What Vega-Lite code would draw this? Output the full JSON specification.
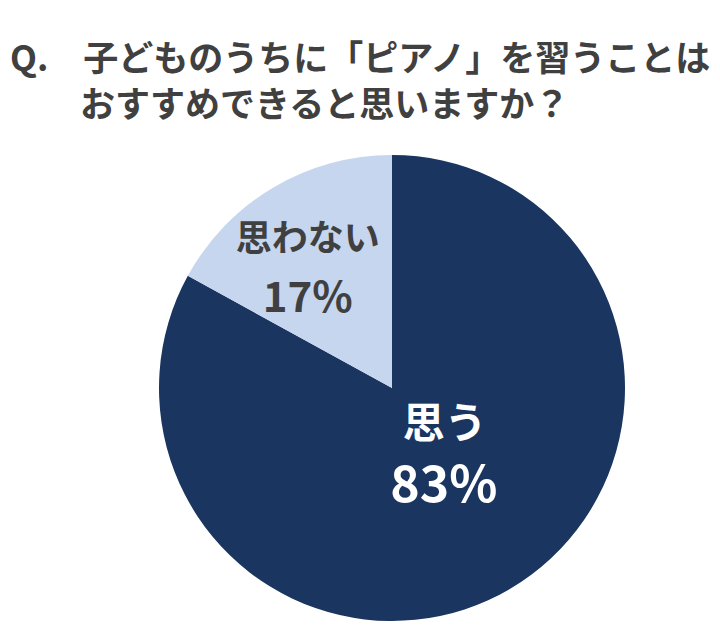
{
  "$schema": "https://vega.github.io/schema/vega-lite/v6.json",
  "width": 656,
  "height": 508,
  "autosize": "none",
  "padding": {"left": 64, "right": 0, "top": 134, "bottom": 0},
  "background": "white",
  "title": {
    "text": ["Q.\u3000子どものうちに「ピアノ」を習うことは", "\u200B\u3000\u3000おすすめできると思いますか？"],
    "anchor": "start",
    "frame": "bounds",
    "dx": -54,
    "offset": 10,
    "font": "Noto Sans CJK JP",
    "fontSize": 35,
    "fontWeight": "bold",
    "color": "#404040",
    "lineHeight": 46
  },
  "data": {
    "values": [
      {"answer": "思う", "pct": 83, "label": "83%", "rank": 1},
      {"answer": "思わない", "pct": 17, "label": "17%", "rank": 2}
    ]
  },
  "encoding": {
    "theta": {"field": "pct", "type": "quantitative", "stack": true},
    "order": {"field": "rank", "type": "quantitative"}
  },
  "layer": [
    {
      "mark": {"type": "arc", "outerRadius": 233},
      "encoding": {
        "color": {
          "field": "answer",
          "type": "nominal",
          "scale": {"domain": ["思う", "思わない"], "range": ["#1a3560", "#c6d6ee"]},
          "legend": null
        }
      }
    },
    {
      "mark": {"type": "text", "font": "Noto Sans CJK JP", "fontWeight": "bold", "fontSize": 42, "color": "white", "radius": 84, "dx": 10, "dy": -35},
      "encoding": {
        "text": {"field": "answer"},
        "opacity": {"condition": {"test": "datum.answer === '思う'", "value": 1}, "value": 0}
      }
    },
    {
      "mark": {"type": "text", "font": "Noto Sans CJK JP", "fontWeight": "bold", "fontSize": 50, "color": "white", "radius": 84, "dx": 9, "dy": 27},
      "encoding": {
        "text": {"field": "label"},
        "opacity": {"condition": {"test": "datum.answer === '思う'", "value": 1}, "value": 0}
      }
    },
    {
      "mark": {"type": "text", "font": "Noto Sans CJK JP", "fontWeight": "bold", "fontSize": 36, "color": "#404040", "radius": 140, "dx": -13, "dy": -27},
      "encoding": {
        "text": {"field": "answer"},
        "opacity": {"condition": {"test": "datum.answer === '思わない'", "value": 1}, "value": 0}
      }
    },
    {
      "mark": {"type": "text", "font": "Noto Sans CJK JP", "fontWeight": "bold", "fontSize": 42, "color": "#404040", "radius": 140, "dx": -13, "dy": 32},
      "encoding": {
        "text": {"field": "label"},
        "opacity": {"condition": {"test": "datum.answer === '思わない'", "value": 1}, "value": 0}
      }
    }
  ],
  "config": {"view": {"stroke": null}}
}
